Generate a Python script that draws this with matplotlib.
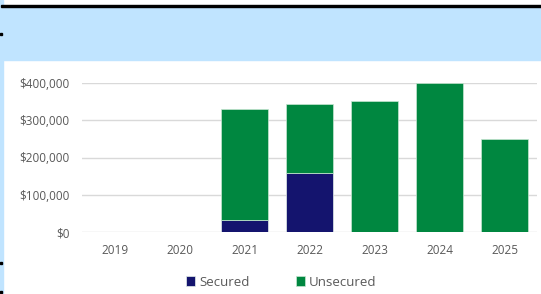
import matplotlib.pyplot as plt
from matplotlib.patches import Rectangle
from matplotlib.ticker import FuncFormatter

years = ['2019', '2020', '2021', '2022', '2023', '2024', '2025']
secured = [0, 0, 31000, 159000, 0, 0, 0]
unsecured = [0, 0, 300000, 184000, 351000, 400000, 250000]

navy = '#14146e'
green = '#008740'

plt.rcParams['font.family'] = ['Open Sans', 'DejaVu Sans']

fig = plt.figure(figsize=(5.41, 2.94), dpi=100)

# light blue header band and border, black top rule
fig.patches.append(Rectangle((0, 234 / 294), 1, 53 / 294, transform=fig.transFigure,
                             color='#c0e4ff', zorder=0))
fig.patches.append(Rectangle((0, 0), 3 / 541, 1, transform=fig.transFigure,
                             color='#c0e4ff', zorder=0))
fig.patches.append(Rectangle((1 / 541, 287 / 294), 1, 2 / 294, transform=fig.transFigure,
                             color='black', zorder=1))
# small black marks on the left edge
for yy in [259, 30, 1]:
    fig.patches.append(Rectangle((0, yy / 294), 2 / 541, 2 / 294, transform=fig.transFigure,
                                 color='black', zorder=1))

ax = fig.add_axes([82 / 541, 62 / 294, 455 / 541, 149 / 294])
x = range(len(years))
ax.bar(x, secured, width=0.71, color=navy, edgecolor='#e6f0ea', linewidth=0.5,
       label='Secured', zorder=3)
ax.bar(x, unsecured, width=0.71, bottom=secured, color=green, edgecolor='#c8e6d2',
       linewidth=0.5, label='Unsecured', zorder=3)

ax.set_xlim(-0.5, len(years) - 0.5)
ax.set_ylim(0, 400000)
ax.set_yticks([0, 100000, 200000, 300000, 400000])
ax.yaxis.set_major_formatter(FuncFormatter(lambda v, p: '${:,.0f}'.format(v)))
ax.set_xticks(list(x))
ax.set_xticklabels(years)
ax.tick_params(length=0, labelsize=8.5, colors='#595959')
ax.tick_params(axis='x', pad=9)
ax.tick_params(axis='y', pad=9)
ax.grid(axis='y', color='#d9d9d9', linewidth=1, zorder=0)
for s in ax.spines.values():
    s.set_visible(False)
ax.set_axisbelow(True)

fig.legend(loc='center', bbox_to_anchor=(281 / 541, 12 / 294), ncol=2, frameon=False,
           fontsize=9.5, labelcolor='#595959', handlelength=0.7, handleheight=0.7,
           handletextpad=0.3, columnspacing=3.5)

fig.savefig('out.png', dpi=100)
